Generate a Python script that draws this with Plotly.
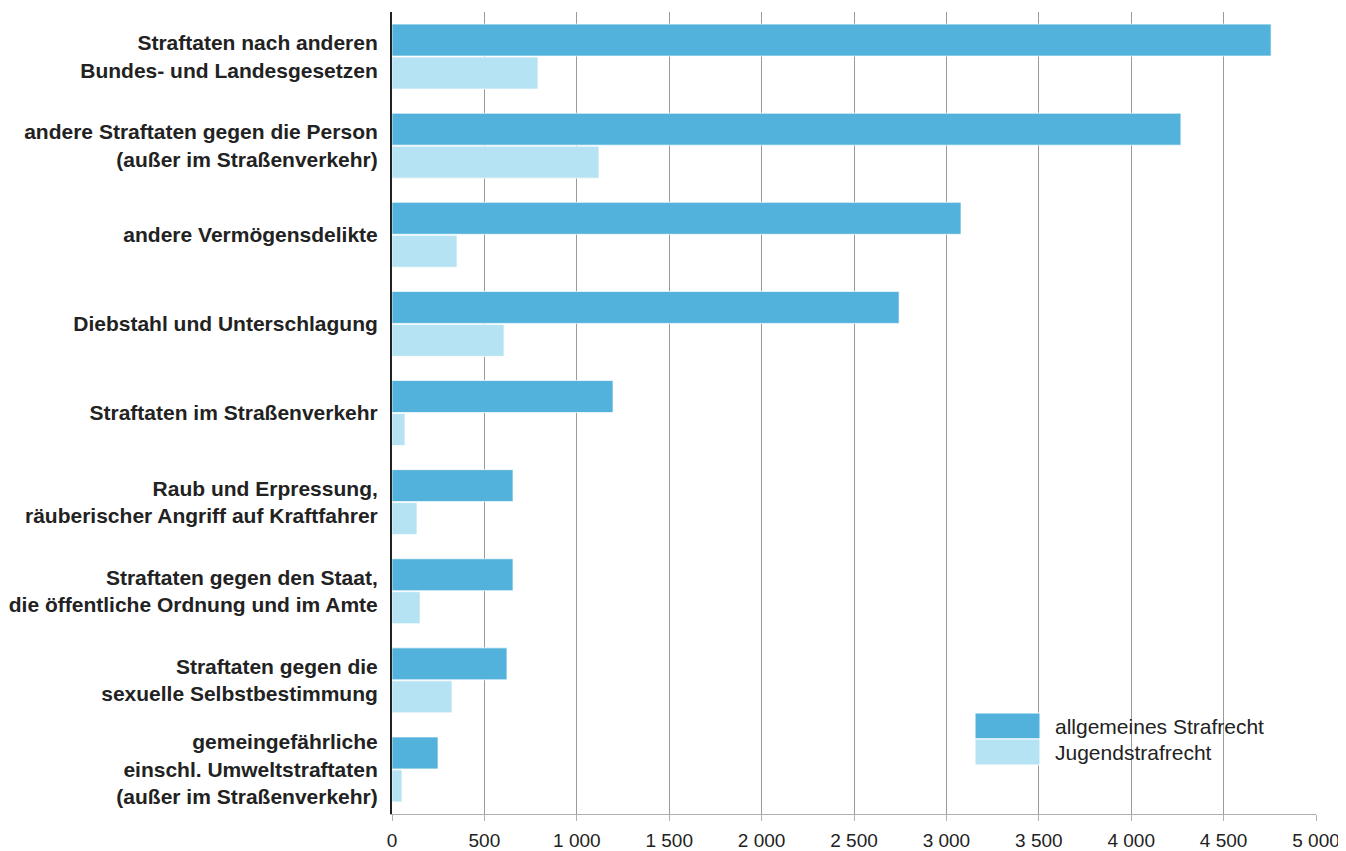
import plotly.graph_objects as go

categories = [
    "Straftaten nach anderen<br>Bundes- und Landesgesetzen",
    "andere Straftaten gegen die Person<br>(außer im Straßenverkehr)",
    "andere Vermögensdelikte",
    "Diebstahl und Unterschlagung",
    "Straftaten im Straßenverkehr",
    "Raub und Erpressung,<br>räuberischer Angriff auf Kraftfahrer",
    "Straftaten gegen den Staat,<br>die öffentliche Ordnung und im Amte",
    "Straftaten gegen die<br>sexuelle Selbstbestimmung",
    "gemeingefährliche<br>einschl. Umweltstraftaten<br>(außer im Straßenverkehr)",
]
allgemeines = [4757, 4269, 3079, 2744, 1196, 655, 655, 622, 249]
jugend = [790, 1120, 352, 606, 70, 135, 152, 325, 54]
series_names = ["allgemeines Strafrecht", "Jugendstrafrecht"]
colors = ["#53b2db", "#b5e3f3"]
x_ticks = [0, 500, 1000, 1500, 2000, 2500, 3000, 3500, 4000, 4500, 5000]

fig = go.Figure()
for name, vals, col in zip(series_names, [allgemeines, jugend], colors):
    fig.add_trace(go.Bar(
        y=categories, x=vals, orientation="h", name=name,
        marker=dict(color=col, line=dict(color="rgba(255,255,255,0.7)", width=1)),
        showlegend=False,
    ))

# custom legend (large swatches), positioned in paper coordinates of the plot area
L, T, W, H = 392, 12, 924, 802
for i, (name, col) in enumerate(zip(series_names, colors)):
    y0 = 713 + i * 26
    fig.add_shape(type="rect", xref="paper", yref="paper",
                  x0=(975 - L) / W, x1=(1040 - L) / W,
                  y0=(T + H - (y0 + 26)) / H, y1=(T + H - y0) / H,
                  fillcolor=col, line=dict(color="white", width=1), layer="above")
    fig.add_annotation(xref="paper", yref="paper",
                       x=(1053 - L) / W, y=(T + H - (y0 + 13)) / H,
                       text=name, showarrow=False, xanchor="left", yanchor="middle",
                       font=dict(size=21, color="#222"))

# page body has an 8px margin, so the figure is sized to fit the window
fig.update_layout(
    width=1338, height=843,
    margin=dict(l=384, r=30, t=4, b=37, autoexpand=False),
    paper_bgcolor="white", plot_bgcolor="white",
    barmode="group", bargap=0.26, bargroupgap=0.03,
    separators=", ",
    font=dict(family="Liberation Sans, Arial, sans-serif", color="#222"),
    xaxis=dict(
        range=[0, 5000], tickvals=x_ticks, tickformat=",d",
        showgrid=True, gridcolor="#9a9a9a", gridwidth=1,
        showline=True, linecolor="#b0b0b0", linewidth=1,
        ticks="outside", ticklen=6, tickcolor="#b0b0b0",
        ticklabelstandoff=3,
        tickfont=dict(size=19, color="#222"),
        zeroline=False, fixedrange=True, automargin=False,
    ),
    yaxis=dict(
        autorange="reversed", showgrid=False,
        showline=True, linecolor="#222", linewidth=2,
        ticks="", ticklabelstandoff=8,
        tickfont=dict(size=21, color="#222", family="Liberation Sans, Arial, sans-serif", weight="bold"),
        fixedrange=True, automargin=False,
    ),
)

fig.write_html("out.html")
